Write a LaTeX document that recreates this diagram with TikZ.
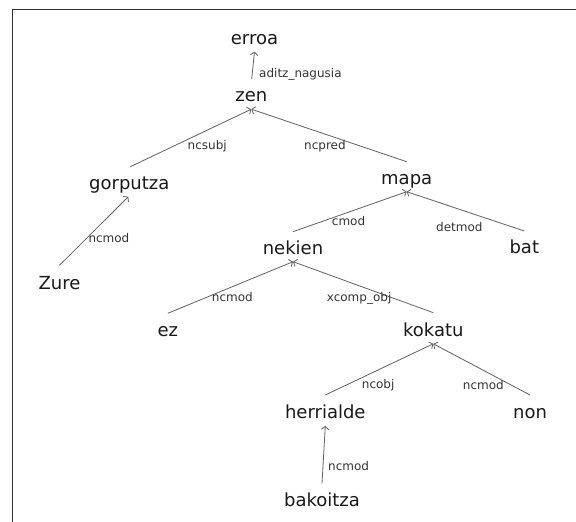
\documentclass[tikz,border=0pt]{standalone}
\usepackage{fontspec}
\setmainfont{DejaVu Sans}
\usetikzlibrary{arrows.meta}
\tikzset{
  word/.style={anchor=base, inner sep=0pt, font=\fontsize{18}{20}\selectfont, text=black!90},
  rel/.style={anchor=base west, inner sep=0pt, font=\fontsize{12}{14}\selectfont, text=black!80},
  dep/.style={draw=black!62, line width=0.8pt, -{Straight Barb[length=3pt,width=7.5pt]}},
  frameline/.style={draw=black!80, line width=1.3pt}
}
\begin{document}
\begin{tikzpicture}[x=1pt,y=-1pt]
\useasboundingbox (0,0) rectangle (576,522);
\draw[frameline] (12.3,522) -- (12.3,9.3) -- (576,9.3);
% words
\node[word] (erroa) at (254.5,44) {erroa};
\node[word] (zen) at (251.3,101.7) {zen};
\node[word] (gorputza) at (129.3,189.3) {gorputza};
\node[word] (mapa) at (406.7,184.3) {mapa};
\node[word] (zure) at (59.5,289.3) {Zure};
\node[word] (nekien) at (293,254.3) {nekien};
\node[word] (bat) at (524.3,253.3) {bat};
\node[word] (ez) at (167.8,336) {ez};
\node[word] (kokatu) at (433.3,336) {kokatu};
\node[word] (herrialde) at (325.3,418) {herrialde};
\node[word] (non) at (530,418) {non};
\node[word] (bakoitza) at (322,506) {bakoitza};
% dependencies
\draw[dep] ([yshift=22.7pt,xshift=0.4pt]zen.base) -- ([yshift=-7.7pt]erroa.base);
\draw[dep] ([yshift=22.6pt,xshift=1pt]gorputza.base) -- ([yshift=-7.5pt]zen.base);
\draw[dep] ([yshift=22.6pt]mapa.base) -- ([yshift=-7.5pt]zen.base);
\draw[dep] ([yshift=24pt]zure.base) -- ([yshift=-7.4pt,xshift=-1pt]gorputza.base);
\draw[dep] ([yshift=22.6pt]nekien.base) -- ([yshift=-7.4pt]mapa.base);
\draw[dep] ([yshift=22.3pt]bat.base) -- ([yshift=-7.4pt]mapa.base);
\draw[dep] ([yshift=22.7pt]ez.base) -- ([yshift=-7.4pt]nekien.base);
\draw[dep] ([yshift=23.3pt]kokatu.base) -- ([yshift=-7.4pt]nekien.base);
\draw[dep] ([yshift=23pt]herrialde.base) -- ([yshift=-7.8pt]kokatu.base);
\draw[dep] ([yshift=23pt]non.base) -- ([yshift=-7.8pt]kokatu.base);
\draw[dep] ([yshift=22.7pt]bakoitza.base) -- ([yshift=-8pt]herrialde.base);
% relation labels
\node[rel] (l1) at (259,77) {aditz\_nagusia};
\node[rel] (l2) at (187.5,149) {ncsubj};
\node[rel] (l3) at (304,149) {ncpred};
\node[rel] (l4) at (88.3,242.7) {ncmod};
\node[rel] (l5) at (331.7,225) {cmod};
\node[rel] (l6) at (436,231.7) {detmod};
\node[rel] (l7) at (211.7,301.7) {ncmod};
\node[rel] (l8) at (326.7,301.7) {xcomp\_obj};
\node[rel] (l9) at (361.7,388) {ncobj};
\node[rel] (l10) at (462.7,389) {ncmod};
\node[rel] (l11) at (328,470.7) {ncmod};
\end{tikzpicture}
\end{document}
